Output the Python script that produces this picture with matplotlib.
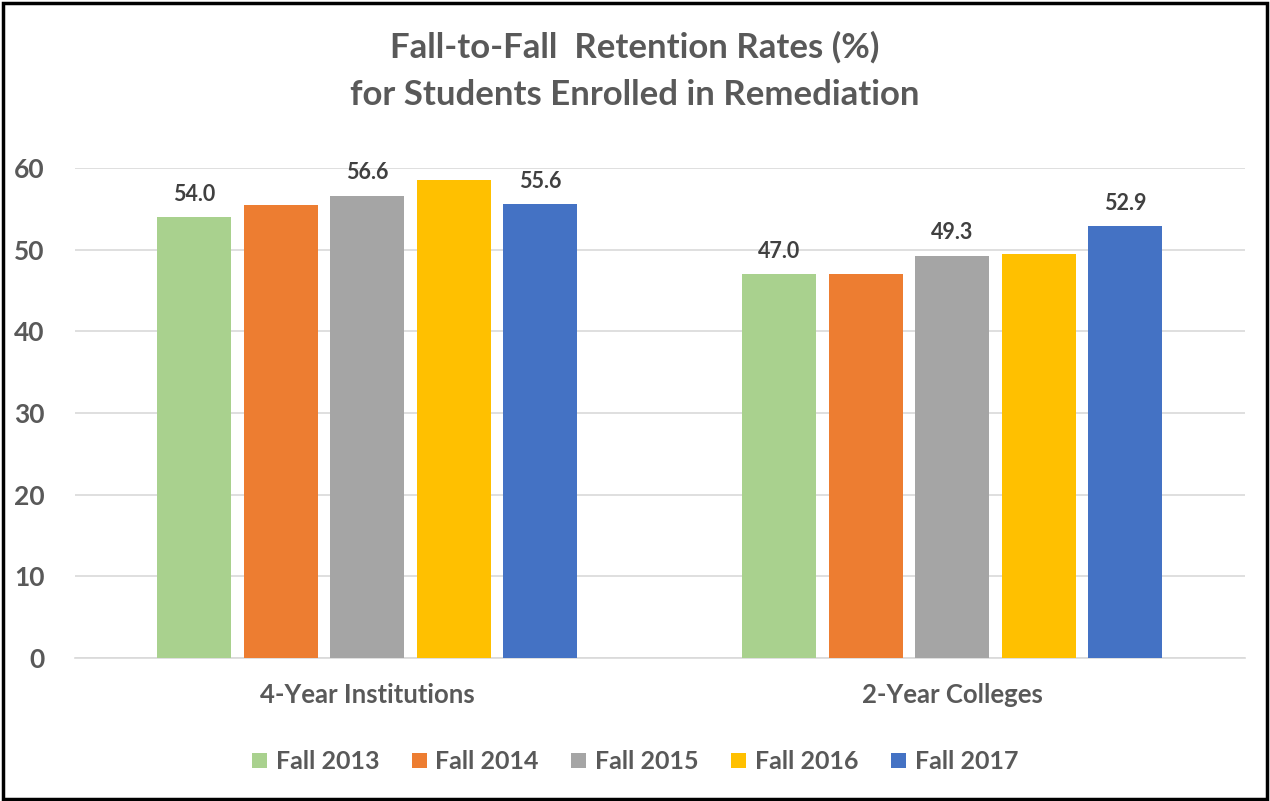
import numpy as np
import matplotlib.pyplot as plt
from matplotlib.patches import Rectangle

# --- data ---
categories = ["4-Year Institutions", "2-Year Colleges"]
series = ["Fall 2013", "Fall 2014", "Fall 2015", "Fall 2016", "Fall 2017"]
values = [
    [54.0, 47.0],   # Fall 2013
    [55.5, 47.0],   # Fall 2014
    [56.6, 49.3],   # Fall 2015
    [58.6, 49.5],   # Fall 2016
    [55.6, 52.9],   # Fall 2017
]
# only some bars carry a value label in the original
shown_labels = [
    [True, True],
    [False, False],
    [True, True],
    [False, False],
    [True, True],
]
colors = ["#a9d18e", "#ed7d31", "#a5a5a5", "#ffc000", "#4472c4"]
yticks = [0, 10, 20, 30, 40, 50, 60]

plt.rcParams['font.family'] = ['Lato', 'DejaVu Sans']
text_color = "#595959"

fig = plt.figure(figsize=(12.7, 8.01), dpi=100)
ax = fig.add_axes([0.059, 0.1785, 0.921, 0.6115])

x = np.arange(len(categories))
slot = 0.148
width = 0.1265
for i, (name, vals) in enumerate(zip(series, values)):
    pos = x + (i - 2) * slot
    bars = ax.bar(pos, vals, width, color=colors[i], label=name, zorder=3)
    for b, v, show in zip(bars, vals, shown_labels[i]):
        if show:
            ax.annotate(f"{v:.1f}", (b.get_x() + b.get_width() / 2, v),
                        xytext=(0, 9), textcoords="offset points",
                        ha="center", va="bottom", fontsize=15.5,
                        fontweight="bold", color="#404040", clip_on=False)

ax.set_xlim(-0.5, 1.5)
ax.set_ylim(0, 60)
ax.set_yticks(yticks)
ax.set_xticks(x)
ax.set_xticklabels(categories)
ax.tick_params(axis="y", length=0, labelsize=19, labelcolor=text_color, pad=22)
ax.tick_params(axis="x", length=0, labelsize=18.5, labelcolor=text_color, pad=18)
for lbl in ax.get_xticklabels() + ax.get_yticklabels():
    lbl.set_fontweight("bold")
ax.grid(axis="y", color="#d9d9d9", linewidth=1.2, zorder=0)
for s in ["top", "right", "left"]:
    ax.spines[s].set_visible(False)
ax.spines["bottom"].set_color("#d9d9d9")
ax.spines["bottom"].set_linewidth(1.2)

fig.text(0.5, 0.941, "Fall-to-Fall  Retention Rates (%)", ha="center", va="center",
         fontsize=25, fontweight="bold", color=text_color)
fig.text(0.5, 0.881, "for Students Enrolled in Remediation", ha="center", va="center",
         fontsize=25, fontweight="bold", color=text_color)

leg = fig.legend(loc="center", bbox_to_anchor=(0.5, 0.049), ncol=5, frameon=False,
                 fontsize=18, handlelength=0.6, handleheight=0.6, handletextpad=0.35,
                 columnspacing=1.3)
for t in leg.get_texts():
    t.set_color(text_color)
    t.set_fontweight("bold")

# black frame around the chart area
fig.patches.append(Rectangle((0.002, 0.002), 0.996, 0.994, transform=fig.transFigure,
                             fill=False, edgecolor="black", linewidth=2.5))

fig.savefig("out.png", dpi=100)
